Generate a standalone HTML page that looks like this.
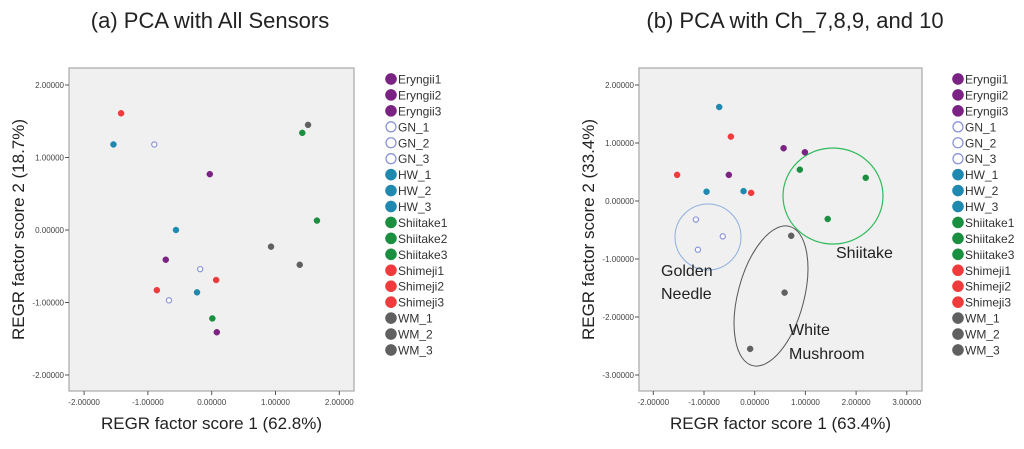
<!DOCTYPE html>
<html><head><meta charset="utf-8"><style>
body{margin:0;background:#fff;width:1024px;height:444px;overflow:hidden;font-family:"Liberation Sans",sans-serif}
</style></head><body>
<svg id="svg" width="1024" height="444" xmlns="http://www.w3.org/2000/svg">
<text x="210" y="28" font-size="22" text-anchor="middle" fill="#222">(a) PCA with All Sensors</text>
<text x="795" y="28" font-size="22" text-anchor="middle" fill="#222">(b) PCA with Ch_7,8,9, and 10</text>
</svg>
<script>
const groups=["Eryngii","GN","HW","Shiitake","Shimeji","WM"];
const legendLabels=["Eryngii1","Eryngii2","Eryngii3","GN_1","GN_2","GN_3","HW_1","HW_2","HW_3","Shiitake1","Shiitake2","Shiitake3","Shimeji1","Shimeji2","Shimeji3","WM_1","WM_2","WM_3"];
const colors={Eryngii:"#7b2382",GN:"#8a94d8",HW:"#2089b0",Shiitake:"#1a8f3f",Shimeji:"#ef3b3b",WM:"#606060"};
// panel A data
const aX={Eryngii:[-0.03,-0.72,0.08],GN:[-0.90,-0.18,-0.67],HW:[-1.54,-0.56,-0.23],Shiitake:[1.42,1.65,0.01],Shimeji:[-1.42,-0.86,0.07],WM:[1.51,0.93,1.38]};
const aY={Eryngii:[0.77,-0.41,-1.41],GN:[1.18,-0.54,-0.97],HW:[1.18,0.00,-0.86],Shiitake:[1.34,0.13,-1.22],Shimeji:[1.61,-0.83,-0.69],WM:[1.45,-0.23,-0.48]};
const aXTicks=[-2,-1,0,1,2], aYTicks=[2,1,0,-1,-2];
// panel B data
const bX={Eryngii:[0.57,0.99,-0.51],GN:[-1.16,-0.63,-1.12],HW:[-0.70,-0.95,-0.22],Shiitake:[0.89,2.19,1.44],Shimeji:[-0.47,-1.53,-0.07],WM:[0.72,0.59,-0.09]};
const bY={Eryngii:[0.91,0.84,0.45],GN:[-0.32,-0.61,-0.84],HW:[1.62,0.16,0.17],Shiitake:[0.54,0.40,-0.31],Shimeji:[1.11,0.45,0.14],WM:[-0.60,-1.58,-2.55]};
const bXTicks=[-2,-1,0,1,2,3], bYTicks=[2,1,0,-1,-2,-3];

const svg=document.getElementById('svg');
const NS="http://www.w3.org/2000/svg";
function mk(tag,attrs,parent){const e=document.createElementNS(NS,tag);for(const k in attrs)e.setAttribute(k,attrs[k]);(parent||svg).appendChild(e);return e;}
function fmt(v){return v.toFixed(5);}

function panel(p){
  const g=mk('g',{});
  
  
  const xs=v=>p.x0+v*p.xu, ys=v=>p.y0-v*p.yu;
  const bg=mk('rect',{x:p.l,y:p.t,width:p.r-p.l,height:p.b-p.t,fill:"#f0f0f0",stroke:"#a8a8a8","stroke-width":1.2},g);
  
  
  p.xt.forEach(v=>{
    mk('line',{x1:xs(v),x2:xs(v),y1:p.b,y2:p.b+4,stroke:"#555"},g);
    const t=mk('text',{x:xs(v),y:p.b+14,"font-size":8,"text-anchor":"middle",fill:"#444"},g);
    t.textContent=fmt(v);
    
    
  });
  p.yt.forEach(v=>{
    mk('line',{x1:p.l-4,x2:p.l,y1:ys(v),y2:ys(v),stroke:"#555"},g);
    const t=mk('text',{x:p.l-5,y:ys(v)+3,"font-size":8,"text-anchor":"end",fill:"#444"},g);
    t.textContent=fmt(v);
    
    
  });
  const xl=mk('text',{x:(p.l+p.r)/2,y:429,"font-size":17,"text-anchor":"middle",fill:"#222"},g);
  xl.textContent=p.xlab;
  
  
  const yl=mk('text',{x:0,y:0,"font-size":17,"text-anchor":"middle",fill:"#222",transform:`translate(${p.l-45},${(p.t+p.b)/2}) rotate(-90)`},g);
  yl.textContent=p.ylab;
  
  
  if(p.extra)p.extra(g,xs,ys);
  groups.forEach(gr=>{
    p.X[gr].forEach((v,i)=>{
      const open=gr==="GN";
      const c=mk('circle',{cx:xs(v),cy:ys(p.Y[gr][i]),r:open?2.6:3,fill:open?"#fff":colors[gr],stroke:colors[gr],"stroke-width":open?1.2:0.5},g);
      
      
    });
  });
  legendLabels.forEach((lab,i)=>{
    const gr=groups[Math.floor(i/3)], open=gr==="GN";
    const y=79+i*15.94;
    const c=mk('circle',{cx:p.lx,cy:y,r:open?5:5.6,fill:open?"#fff":colors[gr],stroke:colors[gr],"stroke-width":open?1.3:0.5},g);
    
    
    const t=mk('text',{x:p.lx+7,y:y+4.5,"font-size":12,fill:"#333"},g);
    t.textContent=lab;
    
    
  });
}

panel({name:'panel-a',l:69,r:354,t:68,b:391,x0:211.7,xu:63.8,y0:230,yu:72.5,xt:aXTicks,yt:aYTicks,X:aX,Y:aY,
  xlab:"REGR factor score 1 (62.8%)",ylab:"REGR factor score 2 (18.7%)",lx:391});

panel({name:'panel-b',l:639,r:922,t:68,b:391,x0:754.7,xu:50.7,y0:201,yu:58,xt:bXTicks,yt:bYTicks,X:bX,Y:bY,
  xlab:"REGR factor score 1 (63.4%)",ylab:"REGR factor score 2 (33.4%)",lx:958,
  extra:(g,xs,ys)=>{
    const e1=mk('ellipse',{cx:708,cy:237,rx:33,ry:33,fill:"none",stroke:"#8fb0e0","stroke-width":1},g);
    
    const e2=mk('ellipse',{cx:833,cy:196,rx:50,ry:48,fill:"none",stroke:"#2dbb5a","stroke-width":1.2},g);
    
    const e3=mk('ellipse',{cx:771,cy:296,rx:33,ry:72,fill:"none",stroke:"#555","stroke-width":1,transform:"rotate(15 771 296)"},g);
    
    [["Golden",661,276],["Needle",661,299],["Shiitake",836,258],["White",789,335],["Mushroom",789,359]].forEach(a=>{
      const t=mk('text',{x:a[1],y:a[2],"font-size":16,fill:"#222"},g);
      t.textContent=a[0];
      
      
    });
  }});
</script>
</body></html>
